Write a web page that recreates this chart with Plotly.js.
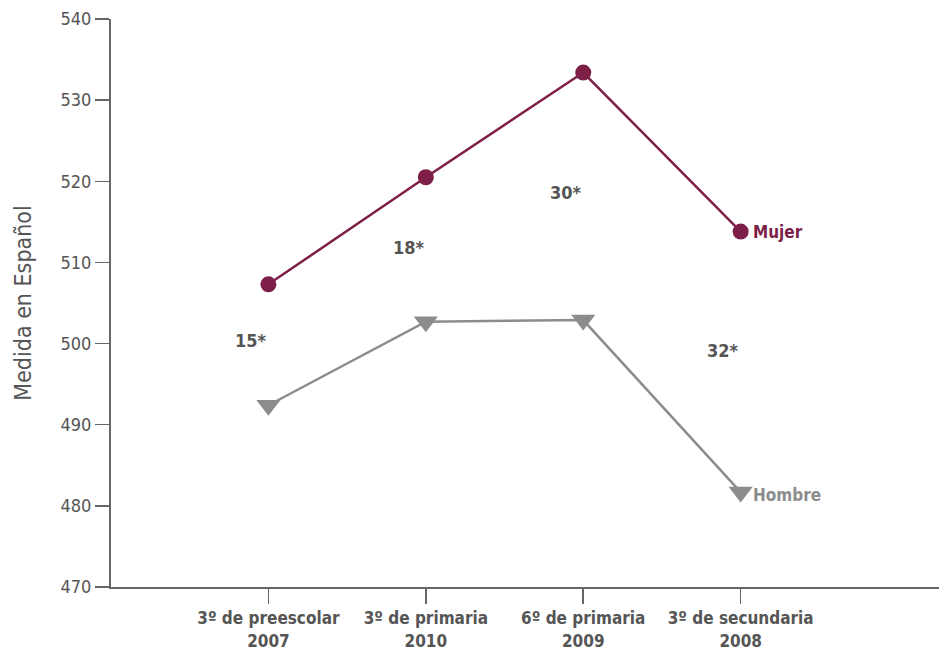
<!DOCTYPE html>
<html>
<head>
<meta charset="utf-8">
<script src="https://cdn.plot.ly/plotly-3.0.1.min.js"></script>
<style>html,body{margin:0;padding:0;background:#fff;}#chart{width:944px;height:649px;}</style>
</head>
<body>
<div id="chart"></div>
<script>
var categories = ["3º de preescolar<br>2007", "3º de primaria<br>2010", "6º de primaria<br>2009", "3º de secundaria<br>2008"];
var mujer = [507.3, 520.5, 533.4, 513.8];
var hombre = [492.4, 502.7, 502.9, 481.7];
var diffLabels = ["15*", "18*", "30*", "32*"];
var diffY = [500.4, 511.9, 518.6, 499.2];
var seriesNames = ["Mujer", "Hombre"];

var FONT = "'Liberation Sans Narrow', 'DejaVu Sans Condensed', Roboto, sans-serif";
var cMujer = "#7d1f47";
var cHombre = "#8c8c8c";
var xi = categories.map(function(_, i){ return i; });

var traces = [
  {x: xi, y: hombre, mode: "lines+markers", type: "scatter", name: seriesNames[1],
   line: {color: cHombre, width: 2.5},
   marker: {symbol: "triangle-down", size: 21, color: cHombre}},
  {x: xi, y: mujer, mode: "lines+markers", type: "scatter", name: seriesNames[0],
   line: {color: cMujer, width: 2.5},
   marker: {symbol: "circle", size: 16, color: cMujer}}
];

var annotations = diffLabels.map(function(t, i){
  return {x: i - 0.11, y: diffY[i], xref: "x", yref: "y", text: "<b>" + t + "</b>",
    showarrow: false, font: {family: FONT, size: 18, color: "#555"}};
});
annotations.push({x: 3, y: mujer[3], xref: "x", yref: "y", text: "<b>" + seriesNames[0] + "</b>",
  showarrow: false, xanchor: "left", xshift: 10, font: {family: FONT, size: 17, color: cMujer}});
annotations.push({x: 3, y: hombre[3], xref: "x", yref: "y", text: "<b>" + seriesNames[1] + "</b>",
  showarrow: false, xanchor: "left", xshift: 10, yshift: -3, font: {family: FONT, size: 17, color: cHombre}});

var layout = {
  width: 944, height: 649,
  margin: {l: 111, r: 5, t: 19, b: 62},
  paper_bgcolor: "#fff", plot_bgcolor: "#fff",
  showlegend: false,
  font: {family: FONT, color: "#555"},
  xaxis: {
    range: [-1.0, 4.26],
    tickmode: "array", tickvals: xi, ticktext: categories.map(function(c){ return "<b>" + c + "</b>"; }),
    showgrid: false, zeroline: false, showline: true, linecolor: "#666", linewidth: 2,
    ticks: "outside", ticklen: 15, tickcolor: "#666", tickwidth: 1.5,
    tickfont: {family: FONT, size: 17, color: "#555"}
  },
  yaxis: {
    range: [470, 540], dtick: 10, tick0: 470,
    showgrid: false, zeroline: false, showline: true, linecolor: "#666", linewidth: 2,
    ticks: "outside", ticklen: 14, tickcolor: "#666", tickwidth: 1.5,
    tickfont: {family: FONT, size: 18, color: "#555"},
    title: {text: "Medida en Español", font: {family: FONT, size: 23, color: "#555"}, standoff: 22}
  },
  annotations: annotations
};

Plotly.newPlot("chart", traces, layout, {displayModeBar: false, staticPlot: true});
</script>
</body>
</html>
